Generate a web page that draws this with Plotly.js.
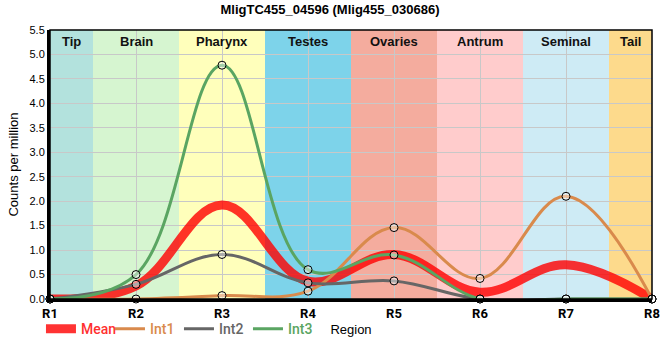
<!DOCTYPE html>
<html><head><meta charset="utf-8">
<script src="https://cdn.plot.ly/plotly-3.0.1.min.js"></script>
<style>body{margin:0;padding:0;background:#fff}#chart{width:660px;height:360px}</style>
</head><body><div id="chart"></div>
<script>
// Data
const regions = ['R1','R2','R3','R4','R5','R6','R7','R8'];
const tissues = ['Tip','Brain','Pharynx','Testes','Ovaries','Antrum','Seminal','Tail'];
const tissueColors = ['#b3e2dd','#d6f5d0','#ffffbb','#7dd3ea','#f4ac9e','#ffcccc','#ceebf5','#fdda8c'];
const int1 = [0, 0, 0.07, 0.16, 1.46, 0.42, 2.10, 0];
const int2 = [0, 0.30, 0.91, 0.33, 0.37, 0, 0, 0];
const int3 = [0, 0.50, 4.78, 0.60, 0.90, 0, 0, 0];
const meanVals = int1.map((v, i) => (v + int2[i] + int3[i]) / 3);
const yTicks = [0,0.5,1,1.5,2,2.5,3,3.5,4,4.5,5,5.5];

const xs = regions.map((r, i) => i + 1);
const n = regions.length;
const lineShape = {shape: 'spline', smoothing: 1.1};

function lineTrace(name, y, color, width, lineColor) {
  return {
    x: xs, y: y, name: '<span style="color:' + color + '">' + name + '</span>',
    mode: 'lines', type: 'scatter',
    line: Object.assign({color: lineColor || color, width: width}, lineShape)
  };
}
function markerTrace(y) {
  return {
    x: xs, y: y, mode: 'markers', type: 'scatter', showlegend: false, cliponaxis: false,
    marker: {size: 8, color: 'rgba(255,255,255,0.45)', line: {color: '#000', width: 1}}
  };
}

const traces = [
  lineTrace('Mean', meanVals, '#ff3030', 9, 'rgba(255,0,0,0.8)'),
  lineTrace('Int1', int1, '#d98a4c', 3),
  lineTrace('Int2', int2, '#666666', 3),
  lineTrace('Int3', int3, '#5aa562', 3),
  markerTrace(int1), markerTrace(int2), markerTrace(int3)
];

const shapes = [];
const annotations = [];
tissues.forEach((t, i) => {
  const x0 = Math.max(1, i + 0.5), x1 = Math.min(n, i + 1.5);
  shapes.push({type: 'rect', xref: 'x', yref: 'paper', x0: x0, x1: x1, y0: 0, y1: 1,
    fillcolor: tissueColors[i], line: {width: 0}, layer: 'below'});
  annotations.push({x: (x0 + x1) / 2, y: 1, xref: 'x', yref: 'paper', yanchor: 'top', yshift: -2,
    text: '<b>' + t + '</b>', showarrow: false,
    font: {family: 'Liberation Sans, Arial, sans-serif', size: 13, color: '#111'}});
});
shapes.push({type: 'rect', xref: 'paper', yref: 'paper', x0: 0, x1: 1, y0: 0, y1: 1,
  line: {color: '#000', width: 1.5}, layer: 'above'});

const layout = {
  width: 660, height: 360,
  margin: {l: 50, r: 8, t: 30, b: 61},
  paper_bgcolor: '#fff', plot_bgcolor: '#fff',
  title: {text: '<b>MligTC455_04596 (Mlig455_030686)</b>', x: 0.5, xanchor: 'center', y: 0.975, yanchor: 'middle',
    font: {family: 'Liberation Sans, Arial, sans-serif', size: 13, color: '#000'}},
  xaxis: {range: [1, n], tickvals: xs, ticktext: regions, showgrid: true, gridcolor: '#c8c8c8', gridwidth: 1,
    zeroline: false, showline: true, linecolor: '#000', linewidth: 3, ticks: '',
    tickfont: {family: 'Roboto, sans-serif', size: 13, color: '#000', weight: 'bold'},
    title: {text: 'Region', standoff: 6, font: {family: 'Liberation Sans, Arial, sans-serif', size: 13, color: '#000'}}},
  yaxis: {range: [0, 5.5], tickvals: yTicks, tickformat: '.1f', showgrid: true, gridcolor: '#c8c8c8', gridwidth: 1,
    zeroline: false, showline: true, linecolor: '#000', linewidth: 3, ticks: '',
    tickfont: {family: 'Liberation Sans, Arial, sans-serif', size: 11, color: '#000'},
    title: {text: 'Counts per million', standoff: 8, font: {family: 'Liberation Sans, Arial, sans-serif', size: 13, color: '#000'}}},
  showlegend: true,
  legend: {orientation: 'h', x: -0.015, xanchor: 'left', y: -0.112, yanchor: 'middle', entrywidth: 24,
    font: {family: 'Roboto, sans-serif', size: 14, weight: 500}, bgcolor: 'rgba(0,0,0,0)', itemwidth: 30},
  shapes: shapes,
  annotations: annotations
};

Plotly.newPlot('chart', traces, layout, {displayModeBar: false, staticPlot: true});
</script>
</body></html>
